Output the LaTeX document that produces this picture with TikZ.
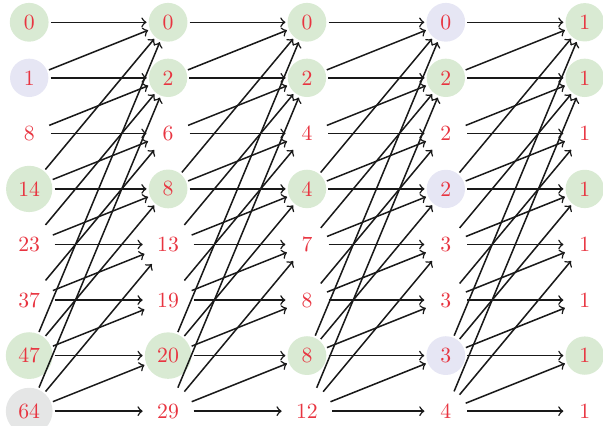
\documentclass[tikz,border=0pt]{standalone}
\definecolor{ng}{RGB}{217,234,211}
\definecolor{nl}{RGB}{230,230,244}
\definecolor{ngr}{RGB}{229,230,230}
\definecolor{txt}{RGB}{232,52,64}
\begin{document}
\begin{tikzpicture}[
  v/.style={circle, inner sep=0.3333em, outer sep=1pt, text=txt},
  gn/.style={v, fill=ng},
  ln/.style={v, fill=nl},
  gy/.style={v, fill=ngr},
  edge/.style={->, line width=0.7pt, black!90}]
\useasboundingbox (-0.473,0.361) rectangle (9.296,-6.527);
\foreach \j/\lst in {
  0/{gn/0,ln/1,v/8,gn/14,v/23,v/37,gn/47,gy/64},
  1/{gn/0,gn/2,v/6,gn/8,v/13,v/19,gn/20,v/29},
  2/{gn/0,gn/2,v/4,gn/4,v/7,v/8,gn/8,v/12},
  3/{ln/0,gn/2,v/2,ln/2,v/3,v/3,ln/3,v/4},
  4/{gn/1,gn/1,v/1,gn/1,v/1,v/1,gn/1,v/1}} {
  \foreach \sty/\val [count=\i from 0] in \lst {
    \node[\sty] (n\j-\i) at (2.25*\j, -0.9*\i) {\val};
  }
}
\foreach \j in {0,...,3} {
  \pgfmathtruncatemacro\kk{\j+1}
  \foreach \i in {0,...,7} {
    \foreach \dd in {0,1,3,6} {
      \pgfmathtruncatemacro\tv{\i-\dd}
      \ifnum\tv<0 \else \draw[edge] (n\j-\i) -- (n\kk-\tv); \fi
    }
  }
}
\end{tikzpicture}
\end{document}
